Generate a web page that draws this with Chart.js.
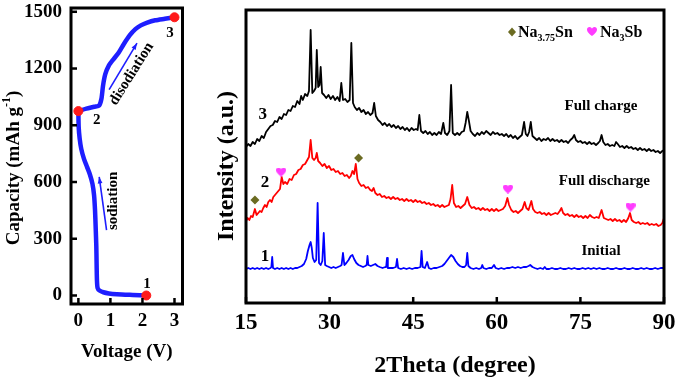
<!DOCTYPE html>
<html>
<head>
<meta charset="utf-8">
<script src="https://cdn.jsdelivr.net/npm/chart.js@4.4.1/dist/chart.umd.min.js"></script>
<style>
  html, body { margin: 0; padding: 0; background: #fff; }
  #wrap { position: relative; width: 678px; height: 380px; overflow: hidden; }
  canvas { position: absolute; top: 0; }
  #voltageChart { left: 0; }
  #xrdChart { left: 200px; }
</style>
</head>
<body>
<div id="wrap">
  <canvas id="voltageChart" width="215" height="380"></canvas>
  <canvas id="xrdChart" width="478" height="380"></canvas>
</div>
<script>
// ---- left panel: voltage vs capacity ----
const voltageTicks = [0, 1, 2, 3];
const capacityTicks = [0, 300, 600, 900, 1200, 1500];

// [voltage (V), capacity (mAh/g)]
const sodiation = [
  [2.12, 0], [1.7, 3], [1.2, 7], [0.95, 11], [0.78, 17], [0.66, 26], [0.6, 40],
  [0.58, 80], [0.57, 160], [0.56, 260], [0.54, 360], [0.52, 450], [0.49, 530],
  [0.44, 590], [0.36, 640], [0.27, 680], [0.17, 725], [0.09, 775], [0.04, 830],
  [0.01, 890], [0, 975]
];
const desodiation = [
  [0, 975], [0.25, 988], [0.5, 998], [0.65, 1005], [0.72, 1040], [0.77, 1110],
  [0.84, 1170], [0.95, 1215], [1.1, 1250], [1.25, 1282], [1.42, 1330], [1.6, 1375],
  [1.78, 1408], [1.95, 1428], [2.15, 1443], [2.4, 1455], [2.7, 1463], [3.0, 1471]
];
const keyPoints = [[2.12, 0], [0, 975], [3.0, 1471]];
const keyLabels = [["1", 2.14, 62], ["2", 0.57, 925], ["3", 2.86, 1388]];
const sodiationArrow = [[0.88, 346], [0.65, 627]];
const desodiationArrow = [[0.96, 1088], [1.83, 1334]];

// ---- right panel: XRD patterns, [2theta (deg), intensity (a.u.)] ----
const thetaTicks = [15, 30, 45, 60, 75, 90];

const fullCharge = [
  [15.0,156],[15.4,159],[15.8,157],[16.2,161],[16.6,159],[17.0,164],[17.4,162],[17.8,167],
  [18.2,165],[18.6,171],[19.0,174],[19.4,177],[19.8,178],[20.2,182],[20.6,181],[21.0,186],
  [21.4,184],[21.8,189],[22.2,188],[22.6,193],[23.0,192],[23.4,197],[23.8,196],[24.2,202],
  [24.6,199],[24.9,207],[25.2,203],[25.6,209],[26.0,207],[26.3,212],[26.6,273],[26.9,210],
  [27.2,212],[27.5,215],[27.7,253],[27.95,216],[28.2,218],[28.4,236],[28.65,210],[29.0,208],
  [29.4,205],[29.8,208],[30.2,204],[30.6,207],[31.0,203],[31.4,206],[31.8,202],[32.1,220],
  [32.4,203],[32.8,204],[33.2,201],[33.6,203],[33.9,260],[34.2,200],[34.5,196],[34.9,193],
  [35.3,195],[35.7,191],[36.1,193],[36.5,189],[36.9,191],[37.3,188],[37.7,190],[38.0,200],
  [38.3,187],[38.7,183],[39.1,181],[39.5,178],[39.9,180],[40.3,177],[40.7,179],[41.1,176],
  [41.5,178],[41.9,175],[42.3,177],[42.7,174],[43.1,176],[43.5,173],[43.9,175],[44.3,172],
  [44.7,175],[45.1,173],[45.5,174],[45.8,173],[46.1,188],[46.4,172],[46.8,170],[47.2,172],
  [47.6,169],[48.0,171],[48.4,168],[48.8,170],[49.2,168],[49.6,171],[50.0,169],[50.4,180],
  [50.7,170],[51.1,168],[51.5,172],[51.8,218],[52.1,170],[52.5,168],[52.9,170],[53.3,168],
  [53.7,171],[54.1,172],[54.4,180],[54.7,191],[55.0,182],[55.3,172],[55.7,169],[56.1,167],
  [56.5,170],[56.9,168],[57.3,171],[57.7,169],[58.1,172],[58.5,170],[58.9,168],[59.3,171],
  [59.7,169],[60.1,170],[60.5,168],[60.9,169],[61.3,167],[61.7,169],[62.1,166],[62.5,168],
  [62.9,165],[63.3,167],[63.7,164],[64.1,166],[64.5,168],[64.9,181],[65.2,169],[65.5,167],
  [65.8,171],[66.1,181],[66.4,167],[66.8,165],[67.2,163],[67.6,165],[68.0,162],[68.4,164],
  [68.8,163],[69.2,165],[69.6,162],[70.0,164],[70.4,162],[70.8,163],[71.2,161],[71.6,163],
  [72.0,161],[72.4,162],[72.8,160],[73.2,163],[73.6,165],[73.9,168],[74.2,163],[74.6,161],
  [75.0,162],[75.4,160],[75.8,161],[76.2,159],[76.6,161],[77.0,159],[77.4,160],[77.8,158],
  [78.2,160],[78.5,162],[78.8,168],[79.1,161],[79.5,158],[79.9,159],[80.3,157],[80.7,158],
  [81.1,157],[81.4,161],[81.7,159],[82.1,156],[82.5,157],[82.9,155],[83.3,157],[83.7,155],
  [84.1,156],[84.5,154],[84.9,155],[85.3,153],[85.7,155],[86.1,153],[86.5,154],[86.9,152],
  [87.3,154],[87.7,152],[88.1,153],[88.5,151],[88.9,152],[89.3,150],[89.7,152],[90.0,153]
];

const fullDischarge = [
  [15.0,82],[15.3,85],[15.6,83],[15.9,87],[16.2,86],[16.6,94],[16.9,88],[17.2,90],
  [17.5,92],[17.8,91],[18.1,95],[18.4,98],[18.7,96],[19.0,101],[19.3,103],[19.6,101],
  [19.9,106],[20.2,108],[20.5,110],[20.8,112],[21.1,114],[21.4,126],[21.7,119],[22.0,121],
  [22.4,119],[22.8,124],[23.2,123],[23.6,128],[24.0,129],[24.4,133],[24.8,134],[25.2,138],
  [25.6,139],[26.0,143],[26.3,146],[26.6,163],[26.9,145],[27.2,143],[27.5,145],[27.7,150],
  [27.95,142],[28.3,140],[28.7,137],[29.1,139],[29.5,135],[29.9,137],[30.3,133],[30.7,134],
  [31.1,131],[31.5,132],[31.9,129],[32.3,130],[32.7,127],[33.1,128],[33.5,125],[33.8,127],
  [34.1,132],[34.4,129],[34.7,139],[35.0,124],[35.3,120],[35.7,117],[36.1,118],[36.5,115],
  [36.9,116],[37.3,113],[37.6,112],[37.9,115],[38.2,110],[38.6,108],[39.0,109],[39.4,106],
  [39.8,107],[40.2,105],[40.6,106],[41.0,104],[41.4,106],[41.8,104],[42.2,105],[42.6,103],
  [43.0,104],[43.4,102],[43.8,104],[44.2,102],[44.6,103],[45.0,101],[45.4,103],[45.8,101],
  [46.2,102],[46.6,100],[47.0,101],[47.4,99],[47.8,100],[48.2,98],[48.6,99],[49.0,97],
  [49.4,98],[49.8,96],[50.2,98],[50.6,96],[51.0,97],[51.4,98],[51.7,104],[52.0,118],
  [52.3,100],[52.7,96],[53.1,97],[53.5,95],[53.9,97],[54.3,99],[54.7,106],[55.1,98],
  [55.5,95],[55.9,96],[56.3,94],[56.7,95],[57.1,93],[57.5,95],[57.9,93],[58.3,94],
  [58.7,92],[59.1,94],[59.5,92],[59.9,94],[60.3,92],[60.7,93],[61.1,94],[61.5,97],
  [61.9,105],[62.2,98],[62.6,93],[63.0,91],[63.4,92],[63.8,90],[64.2,92],[64.6,94],
  [65.0,101],[65.3,95],[65.7,93],[66.2,102],[66.5,94],[66.9,91],[67.3,90],[67.7,91],
  [68.1,89],[68.5,90],[68.9,88],[69.3,90],[69.7,88],[70.1,89],[70.5,90],[70.9,89],
  [71.3,92],[71.6,95],[71.9,90],[72.3,88],[72.7,89],[73.1,87],[73.5,88],[73.9,86],
  [74.3,88],[74.7,86],[75.1,87],[75.5,85],[75.9,87],[76.3,85],[76.7,88],[77.1,86],
  [77.5,85],[77.9,86],[78.3,85],[78.8,93],[79.2,85],[79.6,84],[80.0,83],[80.4,84],
  [80.8,82],[81.2,84],[81.6,82],[82.0,83],[82.4,81],[82.8,83],[83.2,81],[83.6,85],
  [83.9,90],[84.2,83],[84.6,81],[85.0,80],[85.4,81],[85.8,79],[86.2,80],[86.6,79],
  [87.0,80],[87.4,78],[87.8,79],[88.2,78],[88.6,79],[89.0,77],[89.4,78],[89.7,80],[90.0,85]
];

const initial = [
  [15.0,34],[15.4,35],[15.8,34],[16.2,35],[16.6,34],[17.0,35],[17.4,34],[17.8,35],
  [18.2,34],[18.6,35],[19.0,34],[19.4,35],[19.55,36],[19.7,46],[19.85,35],[20.2,34],
  [20.6,35],[21.0,34],[21.4,35],[21.8,34],[22.2,35],[22.6,34],[23.0,35],[23.4,34],
  [23.8,35],[24.2,35],[24.6,36],[25.0,37],[25.4,39],[25.8,44],[26.1,52],[26.4,58],
  [26.6,61],[26.8,55],[27.0,45],[27.3,41],[27.6,43],[27.85,100],[28.1,40],[28.4,38],
  [28.7,42],[28.95,70],[29.2,38],[29.5,37],[29.9,36],[30.3,35],[30.7,36],[31.1,35],
  [31.5,36],[31.9,37],[32.15,38],[32.4,50],[32.65,38],[33.0,40],[33.4,43],[33.8,47],
  [34.1,48],[34.4,44],[34.8,40],[35.2,38],[35.6,37],[36.0,36],[36.4,37],[36.65,38],
  [36.8,47],[36.95,38],[37.4,37],[37.8,38],[38.2,39],[38.6,37],[39.0,36],[39.5,35],
  [40.0,36],[40.15,36],[40.3,45],[40.45,35],[40.9,35],[41.4,35],[41.9,36],[42.1,44],
  [42.3,35],[42.8,34],[43.3,35],[43.8,34],[44.3,35],[44.8,34],[45.3,35],[45.8,35],
  [46.3,36],[46.5,52],[46.7,36],[47.1,35],[47.5,41],[47.8,35],[48.2,34],[48.7,35],
  [49.2,35],[49.7,36],[50.2,37],[50.6,39],[51.0,42],[51.4,45],[51.8,48],[52.2,46],
  [52.6,42],[53.0,39],[53.4,37],[53.8,36],[54.2,36],[54.5,38],[54.7,50],[54.9,37],
  [55.3,35],[55.8,34],[56.3,35],[56.8,34],[57.2,35],[57.4,38],[57.6,35],[58.1,34],
  [58.6,35],[59.1,35],[59.5,38],[59.8,35],[60.3,34],[60.8,35],[61.3,34],[61.8,35],
  [62.3,35],[62.8,36],[63.3,35],[63.8,36],[64.3,35],[64.8,36],[65.3,36],[65.7,37],
  [66.0,38],[66.4,36],[66.8,35],[67.3,34],[67.8,35],[68.3,34],[68.6,36],[68.9,34],
  [69.4,34],[69.9,35],[70.4,34],[70.9,34],[71.4,35],[71.9,34],[72.4,34],[72.9,35],
  [73.4,34],[73.9,35],[74.4,34],[74.9,34],[75.4,35],[75.9,34],[76.4,35],[76.9,34],
  [77.4,35],[77.9,34],[78.4,35],[78.9,34],[79.4,34],[79.9,35],[80.4,34],[80.9,34],
  [81.4,35],[81.9,34],[82.4,34],[82.9,35],[83.4,34],[83.9,34],[84.4,35],[84.9,34],
  [85.4,34],[85.9,35],[86.4,34],[86.9,35],[87.4,34],[87.9,34],[88.4,35],[88.9,34],
  [89.4,35],[90.0,35]
];

const na375SnMarks = [[16.6, 103], [35.2, 145]];
const na3SbMarks = [[21.3, 131], [62.0, 114], [84.0, 96]];
const curveNumbers = [["3", 18.0, 188], ["2", 18.4, 120], ["1", 18.4, 46]];
const stateNames = [["Full charge", 78.7, 197], ["Full discharge", 79.3, 122], ["Initial", 78.7, 52]];

// ---------------------------------------------------------------
const SERIF = "'Liberation Serif', 'Times New Roman', serif";
const BLUE = "#1e1eff";
const OLIVE = "#6b6b22";
const PINK = "#ff3cff";

const toXY = (arr) => arr.map(([x, y]) => ({ x, y }));
const fixedTicks = (vals) => (scale) => {
  scale.ticks = vals.map((v) => ({ value: v }));
};
const fixedSize = (w, h) => (scale) => {
  if (w !== null) scale.width = w;
  if (h !== null) scale.height = h;
  scale.paddingLeft = scale.paddingRight = scale.paddingTop = scale.paddingBottom = 0;
};
const plainNumber = (v) => String(v);

function heartImage(color) {
  const c = document.createElement("canvas");
  c.width = 10;
  c.height = 9;
  const g = c.getContext("2d");
  g.fillStyle = color;
  g.beginPath();
  g.moveTo(5, 9);
  g.bezierCurveTo(1, 6, 0, 4, 0, 2.5);
  g.bezierCurveTo(0, 1, 1, 0, 2.5, 0);
  g.bezierCurveTo(4, 0, 5, 1.2, 5, 2);
  g.bezierCurveTo(5, 1.2, 6, 0, 7.5, 0);
  g.bezierCurveTo(9, 0, 10, 1, 10, 2.5);
  g.bezierCurveTo(10, 4, 9, 6, 5, 9);
  g.fill();
  return c;
}
const heart = heartImage(PINK);

// heavy frame and inward tick marks
const framePlugin = {
  id: "frame",
  afterDraw(chart, args, opts) {
    const { ctx, chartArea: ca, scales } = chart;
    ctx.save();
    ctx.strokeStyle = "#000";
    ctx.lineWidth = 2.5;
    (opts.xTicks || []).forEach((v) => {
      const x = scales.x.getPixelForValue(v);
      ctx.beginPath();
      ctx.moveTo(x, ca.bottom);
      ctx.lineTo(x, ca.bottom - 6);
      ctx.stroke();
    });
    (opts.yTicks || []).forEach((v) => {
      const y = scales.y.getPixelForValue(v);
      ctx.beginPath();
      ctx.moveTo(ca.left, y);
      ctx.lineTo(ca.left + 6, y);
      ctx.stroke();
    });
    ctx.lineWidth = 3;
    ctx.strokeRect(ca.left, ca.top, ca.right - ca.left, ca.bottom - ca.top);
    ctx.restore();
  },
};

function arrow(ctx, x1, y1, x2, y2) {
  const a = Math.atan2(y2 - y1, x2 - x1);
  ctx.beginPath();
  ctx.moveTo(x1, y1);
  ctx.lineTo(x2, y2);
  ctx.stroke();
  ctx.beginPath();
  ctx.moveTo(x2, y2);
  ctx.lineTo(x2 - 7 * Math.cos(a - 0.35), y2 - 7 * Math.sin(a - 0.35));
  ctx.lineTo(x2 - 7 * Math.cos(a + 0.35), y2 - 7 * Math.sin(a + 0.35));
  ctx.closePath();
  ctx.fill();
}

const voltageNotes = {
  id: "voltageNotes",
  afterDraw(chart) {
    const { ctx, scales: { x, y } } = chart;
    ctx.save();
    ctx.fillStyle = "#000";
    ctx.textAlign = "center";
    ctx.textBaseline = "middle";
    ctx.font = `bold 15px ${SERIF}`;
    keyLabels.forEach(([t, v, c]) => ctx.fillText(t, x.getPixelForValue(v), y.getPixelForValue(c)));

    ctx.strokeStyle = BLUE;
    ctx.fillStyle = BLUE;
    ctx.lineWidth = 1.6;
    [sodiationArrow, desodiationArrow].forEach(([p, q]) => {
      arrow(ctx, x.getPixelForValue(p[0]), y.getPixelForValue(p[1]),
        x.getPixelForValue(q[0]), y.getPixelForValue(q[1]));
    });

    ctx.fillStyle = "#000";
    ctx.font = `bold 15px ${SERIF}`;
    ctx.save();
    ctx.translate(x.getPixelForValue(1.1), y.getPixelForValue(500));
    ctx.rotate(-Math.PI / 2);
    ctx.fillText("sodiation", 0, 0);
    ctx.restore();
    ctx.save();
    ctx.translate(x.getPixelForValue(1.66), y.getPixelForValue(1172));
    ctx.rotate((-58 * Math.PI) / 180);
    ctx.fillText("disodiation", 0, 0);
    ctx.restore();

    // y axis title with superscript
    ctx.save();
    ctx.translate(14, 168);
    ctx.rotate(-Math.PI / 2);
    ctx.textAlign = "left";
    const main = "Capacity (mAh g";
    ctx.font = `bold 19px ${SERIF}`;
    const w1 = ctx.measureText(main).width;
    const w3 = ctx.measureText(")").width;
    ctx.font = `bold 12px ${SERIF}`;
    const w2 = ctx.measureText("-1").width;
    let sx = -(w1 + w2 + w3) / 2;
    ctx.font = `bold 19px ${SERIF}`;
    ctx.fillText(main, sx, 0);
    ctx.font = `bold 12px ${SERIF}`;
    ctx.fillText("-1", sx + w1, -7);
    ctx.font = `bold 19px ${SERIF}`;
    ctx.fillText(")", sx + w1 + w2, 0);
    ctx.restore();
    ctx.restore();
  },
};

const xrdNotes = {
  id: "xrdNotes",
  afterDraw(chart) {
    const { ctx, chartArea: ca, scales: { x, y } } = chart;
    ctx.save();
    ctx.fillStyle = "#000";
    ctx.textAlign = "center";
    ctx.textBaseline = "middle";
    ctx.font = `bold 17px ${SERIF}`;
    curveNumbers.forEach(([t, v, c]) => ctx.fillText(t, x.getPixelForValue(v), y.getPixelForValue(c)));
    ctx.font = `bold 15px ${SERIF}`;
    stateNames.forEach(([t, v, c]) => ctx.fillText(t, x.getPixelForValue(v), y.getPixelForValue(c)));

    // legend with subscripts
    const lx = ca.right - 152;
    const ly = ca.top + 22;
    ctx.fillStyle = OLIVE;
    ctx.beginPath();
    ctx.moveTo(lx, ly - 4.5);
    ctx.lineTo(lx + 4, ly);
    ctx.lineTo(lx, ly + 4.5);
    ctx.lineTo(lx - 4, ly);
    ctx.closePath();
    ctx.fill();
    ctx.drawImage(heart, lx + 75, ly - 5);

    ctx.fillStyle = "#000";
    ctx.textAlign = "left";
    ctx.textBaseline = "alphabetic";
    const chem = (parts, sx) => {
      parts.forEach(([t, sub]) => {
        ctx.font = sub ? `bold 10px ${SERIF}` : `bold 16px ${SERIF}`;
        ctx.fillText(t, sx, ly + (sub ? 9 : 5));
        sx += ctx.measureText(t).width;
      });
    };
    chem([["Na", false], ["3.75", true], ["Sn", false]], lx + 6);
    chem([["Na", false], ["3", true], ["Sb", false]], lx + 88);

    // y axis title
    ctx.save();
    ctx.translate(27, 166);
    ctx.rotate(-Math.PI / 2);
    ctx.textAlign = "center";
    ctx.textBaseline = "middle";
    ctx.font = `bold 24px ${SERIF}`;
    ctx.fillText("Intensity (a.u.)", 0, 0);
    ctx.restore();
    ctx.restore();
  },
};

new Chart(document.getElementById("voltageChart"), {
  type: "scatter",
  data: {
    datasets: [
      {
        data: toXY(keyPoints),
        backgroundColor: "#ff1a1a",
        borderColor: "#ff1a1a",
        pointRadius: 4.5,
        showLine: false,
        order: 0,
      },
      {
        data: toXY(sodiation),
        borderColor: BLUE,
        borderWidth: 4.5,
        pointRadius: 0,
        showLine: true,
        tension: 0.25,
        borderCapStyle: "round",
        borderJoinStyle: "round",
        order: 1,
      },
      {
        data: toXY(desodiation),
        borderColor: BLUE,
        borderWidth: 4.5,
        pointRadius: 0,
        showLine: true,
        tension: 0.25,
        borderCapStyle: "round",
        borderJoinStyle: "round",
        order: 1,
      },
    ],
  },
  options: {
    responsive: false,
    animation: false,
    devicePixelRatio: 1,
    layout: { padding: { left: 0, top: 8, right: 32.5, bottom: 0 } },
    plugins: {
      legend: { display: false },
      tooltip: { enabled: false },
      frame: { xTicks: voltageTicks, yTicks: capacityTicks },
    },
    scales: {
      x: {
        type: "linear",
        min: -0.23,
        max: 3.25,
        afterBuildTicks: fixedTicks(voltageTicks),
        afterFit: fixedSize(null, 76),
        grid: { display: false, drawTicks: false },
        border: { display: false },
        ticks: {
          color: "#000",
          font: { family: SERIF, size: 19, weight: "bold" },
          padding: 6,
          callback: plainNumber,
        },
        title: {
          display: true,
          text: "Voltage (V)",
          color: "#000",
          font: { family: SERIF, size: 19, weight: "bold" },
          padding: { top: 0, bottom: 17 },
        },
      },
      y: {
        type: "linear",
        min: -45,
        max: 1520,
        afterBuildTicks: fixedTicks(capacityTicks),
        afterFit: fixedSize(71, null),
        grid: { display: false, drawTicks: false },
        border: { display: false },
        ticks: {
          color: "#000",
          font: { family: SERIF, size: 19, weight: "bold" },
          padding: 9,
          callback: plainNumber,
        },
      },
    },
  },
  plugins: [framePlugin, voltageNotes],
});

new Chart(document.getElementById("xrdChart"), {
  type: "scatter",
  data: {
    datasets: [
      { label: "Full charge", data: toXY(fullCharge), borderColor: "#000" },
      { label: "Full discharge", data: toXY(fullDischarge), borderColor: "#ff0000" },
      { label: "Initial", data: toXY(initial), borderColor: "#0000ff" },
    ].map((d) => ({
      ...d,
      showLine: true,
      borderWidth: 1.8,
      pointRadius: 0,
      borderJoinStyle: "round",
      order: 2,
    })).concat([
      {
        label: "Na3.75Sn",
        data: toXY(na375SnMarks),
        pointStyle: "rectRot",
        pointRadius: 4.5,
        backgroundColor: OLIVE,
        borderColor: OLIVE,
        borderWidth: 0,
        showLine: false,
        order: 0,
      },
      {
        label: "Na3Sb",
        data: toXY(na3SbMarks),
        pointStyle: heart,
        pointRadius: 5,
        showLine: false,
        order: 0,
      },
    ]),
  },
  options: {
    responsive: false,
    animation: false,
    devicePixelRatio: 1,
    layout: { padding: { left: 0, top: 10, right: 14, bottom: 0 } },
    plugins: {
      legend: { display: false },
      tooltip: { enabled: false },
      frame: { xTicks: thetaTicks },
    },
    scales: {
      x: {
        type: "linear",
        min: 15,
        max: 90,
        afterBuildTicks: fixedTicks(thetaTicks),
        afterFit: fixedSize(null, 77),
        grid: { display: false, drawTicks: false },
        border: { display: false },
        ticks: {
          color: "#000",
          font: { family: SERIF, size: 23, weight: "bold" },
          padding: 6,
          callback: plainNumber,
        },
        title: {
          display: true,
          text: "2Theta (degree)",
          color: "#000",
          font: { family: SERIF, size: 24, weight: "bold" },
          padding: { top: 0, bottom: 0 },
        },
      },
      y: {
        type: "linear",
        min: 0,
        max: 293,
        afterFit: fixedSize(46, null),
        grid: { display: false, drawTicks: false },
        border: { display: false },
        ticks: { display: false },
      },
    },
  },
  plugins: [framePlugin, xrdNotes],
});
</script>
</body>
</html>
